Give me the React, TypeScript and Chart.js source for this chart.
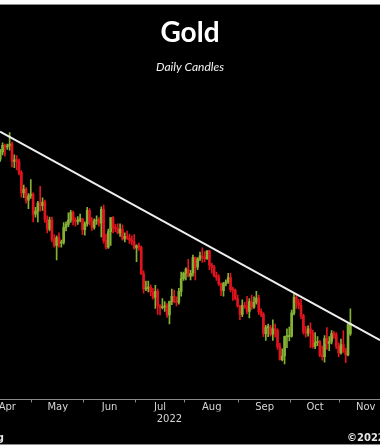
import React, { useEffect, useRef } from "react";
import { Chart, registerables } from "chart.js";

Chart.register(...registerables);

// ---------- data (spot gold, daily candles) ----------
const tradingDates: string[] = [
  // Apr
  "2022-04-11", "2022-04-12", "2022-04-13", "2022-04-14", "2022-04-15", "2022-04-18", "2022-04-19", "2022-04-20",
  "2022-04-21", "2022-04-22", "2022-04-25", "2022-04-26", "2022-04-27", "2022-04-28", "2022-04-29",
  // May
  "2022-05-02", "2022-05-03", "2022-05-04", "2022-05-05", "2022-05-06", "2022-05-09", "2022-05-10", "2022-05-11",
  "2022-05-12", "2022-05-13", "2022-05-16", "2022-05-17", "2022-05-18", "2022-05-19", "2022-05-20", "2022-05-23",
  "2022-05-24", "2022-05-25", "2022-05-26", "2022-05-27", "2022-05-30", "2022-05-31",
  // Jun
  "2022-06-01", "2022-06-02", "2022-06-03", "2022-06-06", "2022-06-07", "2022-06-08", "2022-06-09", "2022-06-10",
  "2022-06-13", "2022-06-14", "2022-06-15", "2022-06-16", "2022-06-17", "2022-06-20", "2022-06-21", "2022-06-22",
  "2022-06-23", "2022-06-24", "2022-06-27", "2022-06-28", "2022-06-29", "2022-06-30",
  // Jul
  "2022-07-01", "2022-07-04", "2022-07-05", "2022-07-06", "2022-07-07", "2022-07-08", "2022-07-11", "2022-07-12",
  "2022-07-13", "2022-07-14", "2022-07-15", "2022-07-18", "2022-07-19", "2022-07-20", "2022-07-21", "2022-07-22",
  "2022-07-25", "2022-07-26", "2022-07-27", "2022-07-28", "2022-07-29",
  // Aug
  "2022-08-01", "2022-08-02", "2022-08-03", "2022-08-04", "2022-08-05", "2022-08-08", "2022-08-09", "2022-08-10",
  "2022-08-11", "2022-08-12", "2022-08-15", "2022-08-16", "2022-08-17", "2022-08-18", "2022-08-19", "2022-08-22",
  "2022-08-23", "2022-08-24", "2022-08-25", "2022-08-26", "2022-08-29", "2022-08-30", "2022-08-31",
  // Sep
  "2022-09-01", "2022-09-02", "2022-09-05", "2022-09-06", "2022-09-07", "2022-09-08", "2022-09-09", "2022-09-12",
  "2022-09-13", "2022-09-14", "2022-09-15", "2022-09-16", "2022-09-19", "2022-09-20", "2022-09-21", "2022-09-22",
  "2022-09-23", "2022-09-26", "2022-09-27", "2022-09-28", "2022-09-29", "2022-09-30",
  // Oct
  "2022-10-03", "2022-10-04", "2022-10-05", "2022-10-06", "2022-10-07", "2022-10-10", "2022-10-11", "2022-10-12",
  "2022-10-13", "2022-10-14", "2022-10-17", "2022-10-18", "2022-10-19", "2022-10-20", "2022-10-21", "2022-10-24",
  "2022-10-25", "2022-10-26", "2022-10-27", "2022-10-28", "2022-10-31",
  // Nov
  "2022-11-01", "2022-11-02", "2022-11-03", "2022-11-04", "2022-11-07",
];

const openPrices: number[] = [
  1946, 1954, 1966, 1977, 1974, 1976, 1979, 1950, 1953, 1950, 1932, 1898, 1904, 1886, 1893,
  1896, 1863, 1868, 1881, 1877, 1883, 1854, 1838, 1853, 1821, 1811, 1824, 1815, 1816, 1841, 1846, 1853, 1866, 1853, 1851, 1853, 1855,
  1837, 1847, 1869, 1851, 1841, 1852, 1853, 1848, 1871, 1819, 1808, 1834, 1857, 1840, 1839, 1832, 1838, 1822, 1826, 1823, 1820, 1817,
  1807, 1811, 1808, 1764, 1739, 1740, 1742, 1734, 1725, 1735, 1711, 1708, 1709, 1711, 1696, 1718, 1727, 1719, 1717, 1735, 1756,
  1765, 1772, 1760, 1765, 1791, 1775, 1789, 1794, 1792, 1789, 1802, 1779, 1775, 1761, 1758, 1747, 1736, 1748, 1751, 1758, 1738, 1737, 1723,
  1711, 1697, 1712, 1710, 1702, 1718, 1709, 1717, 1724, 1702, 1697, 1665, 1675, 1675, 1664, 1673, 1671, 1643, 1622, 1628, 1660, 1660,
  1661, 1699, 1725, 1716, 1712, 1695, 1668, 1666, 1673, 1666, 1644, 1650, 1652, 1629, 1627, 1657, 1649, 1652, 1665, 1663, 1644,
  1633, 1647, 1636, 1630, 1665,
];

const highPrices: number[] = [
  1958, 1970, 1981, 1979, 1979, 1998, 1982, 1961, 1960, 1954, 1935, 1911, 1907, 1897, 1920,
  1898, 1874, 1884, 1909, 1890, 1886, 1860, 1858, 1858, 1829, 1827, 1832, 1820, 1849, 1850, 1865, 1869, 1868, 1857, 1859, 1863, 1856,
  1850, 1874, 1872, 1857, 1855, 1860, 1857, 1875, 1878, 1830, 1838, 1857, 1859, 1846, 1847, 1847, 1845, 1832, 1835, 1830, 1827, 1829,
  1812, 1815, 1810, 1769, 1752, 1752, 1746, 1740, 1745, 1739, 1713, 1723, 1718, 1715, 1719, 1739, 1737, 1726, 1740, 1767, 1767,
  1774, 1788, 1770, 1795, 1792, 1791, 1800, 1807, 1801, 1802, 1803, 1782, 1778, 1767, 1763, 1749, 1750, 1754, 1765, 1765, 1742, 1739, 1729,
  1712, 1721, 1717, 1727, 1723, 1729, 1726, 1735, 1729, 1706, 1700, 1679, 1681, 1679, 1688, 1681, 1673, 1649, 1640, 1661, 1673, 1676,
  1704, 1730, 1729, 1722, 1722, 1697, 1677, 1678, 1683, 1671, 1667, 1660, 1654, 1645, 1662, 1675, 1660, 1670, 1669, 1667, 1650,
  1656, 1670, 1641, 1682, 1706,
];

const lowPrices: number[] = [
  1940, 1950, 1961, 1959, 1970, 1969, 1941, 1940, 1936, 1928, 1891, 1890, 1881, 1872, 1889,
  1850, 1858, 1850, 1868, 1869, 1849, 1832, 1835, 1817, 1808, 1787, 1808, 1808, 1813, 1835, 1842, 1849, 1845, 1843, 1846, 1850, 1829,
  1828, 1843, 1845, 1836, 1838, 1846, 1843, 1825, 1815, 1805, 1806, 1811, 1832, 1834, 1830, 1826, 1820, 1817, 1821, 1814, 1812, 1805,
  1784, 1803, 1763, 1732, 1736, 1734, 1728, 1722, 1707, 1697, 1696, 1706, 1702, 1692, 1681, 1713, 1716, 1711, 1714, 1727, 1753,
  1754, 1759, 1754, 1760, 1754, 1771, 1786, 1783, 1784, 1788, 1771, 1765, 1759, 1753, 1745, 1728, 1727, 1744, 1748, 1734, 1720, 1721, 1709,
  1688, 1693, 1707, 1698, 1691, 1705, 1707, 1714, 1697, 1693, 1660, 1654, 1660, 1661, 1654, 1659, 1639, 1621, 1620, 1615, 1642, 1653,
  1659, 1696, 1707, 1706, 1690, 1664, 1659, 1661, 1642, 1641, 1640, 1645, 1627, 1621, 1618, 1639, 1637, 1648, 1657, 1640, 1627,
  1631, 1634, 1617, 1628, 1662,
];

const closePrices: number[] = [
  1954, 1966, 1977, 1974, 1975, 1979, 1950, 1953, 1950, 1932, 1898, 1904, 1886, 1893, 1896,
  1863, 1868, 1881, 1877, 1883, 1854, 1838, 1853, 1821, 1811, 1824, 1815, 1816, 1841, 1846, 1853, 1866, 1853, 1851, 1853, 1855, 1837,
  1847, 1869, 1851, 1841, 1852, 1853, 1848, 1871, 1819, 1808, 1834, 1857, 1840, 1839, 1832, 1838, 1822, 1826, 1823, 1820, 1817, 1807,
  1811, 1808, 1764, 1739, 1740, 1742, 1734, 1725, 1735, 1711, 1708, 1709, 1711, 1696, 1718, 1727, 1719, 1717, 1735, 1756, 1765,
  1772, 1760, 1765, 1791, 1775, 1789, 1794, 1792, 1789, 1802, 1779, 1775, 1761, 1758, 1747, 1736, 1748, 1751, 1758, 1738, 1737, 1723, 1711,
  1697, 1712, 1710, 1702, 1718, 1709, 1717, 1724, 1702, 1697, 1665, 1675, 1675, 1664, 1673, 1671, 1643, 1622, 1628, 1660, 1660, 1661,
  1699, 1725, 1716, 1712, 1695, 1668, 1666, 1673, 1666, 1644, 1650, 1652, 1629, 1627, 1657, 1649, 1652, 1665, 1663, 1644, 1633,
  1647, 1636, 1630, 1681, 1682,
];

// trend line (resistance) drawn from left edge to right edge, in trading-day units / USD
const trendDays: number[] = [0.9, 162.6];
const trendPrices: number[] = [1999.7, 1654.2];

// axis labels
const monthStarts: string[] = [
  "2022-04-01", "2022-05-01", "2022-06-01", "2022-07-01", "2022-08-01",
  "2022-09-01", "2022-10-01", "2022-11-01", "2022-12-01",
];
const monthLabels: string[] = ["Apr", "May", "Jun", "Jul", "Aug", "Sep", "Oct", "Nov"];
const yearLabel = "2022";
const yearLabelDay = 73;

// visible ranges
const dayRange: number[] = [0.9, 162.6];
const priceRange: number[] = [1556, 2076.7];

const titleText = "Gold";
const subtitleText = "Daily Candles";
const sourceLeft = "Source: Bloomberg";
const sourceRight = "\u00A92022 Bloomberg Finance L.P.";

// ---------- helpers ----------
const DAY = 86400000;
const BASE = Date.parse(tradingDates[0] + "T00:00:00Z");
function weekdayIndex(iso: string): number {
  const t = Date.parse(iso + "T00:00:00Z");
  let n = 0;
  if (t >= BASE) {
    for (let u = BASE; u < t; u += DAY) {
      const w = new Date(u).getUTCDay();
      if (w !== 0 && w !== 6) n++;
    }
  } else {
    for (let u = t; u < BASE; u += DAY) {
      const w = new Date(u).getUTCDay();
      if (w !== 0 && w !== 6) n--;
    }
  }
  return n;
}

const GREEN = "#85b235";
const RED = "#e0141e";

export default function App() {
  const canvasRef = useRef<HTMLCanvasElement | null>(null);

  useEffect(() => {
    const canvas = canvasRef.current;
    if (!canvas) return;

    const xs = tradingDates.map((d) => weekdayIndex(d));
    const up = closePrices.map((c, i) => c >= openPrices[i]);
    const colors = up.map((u) => (u ? GREEN : RED));

    const wickData = xs.map((x, i) => ({ x, y: [lowPrices[i], highPrices[i]] }));
    const bodyData = xs.map((x, i) => ({ x, y: [openPrices[i], closePrices[i]] }));
    const trendData = trendDays.map((x, i) => ({ x, y: trendPrices[i] }));

    const bounds = monthStarts.map((m) => weekdayIndex(m) - 0.5);
    const monthTicks: { value: number; label: string }[] = [];
    for (let i = 0; i < monthLabels.length; i++) {
      monthTicks.push({ value: bounds[i], label: "" });
      monthTicks.push({ value: (bounds[i] + bounds[i + 1]) / 2, label: monthLabels[i] });
    }
    const visibleMonthTicks = monthTicks.filter(
      (t) => t.value >= dayRange[0] && t.value <= dayRange[1]
    );

    const chart = new Chart(canvas, {
      type: "bar",
      data: {
        datasets: [
          {
            type: "line",
            data: trendData as any,
            xAxisID: "x",
            yAxisID: "y",
            borderColor: "#eeeeee",
            borderWidth: 2,
            pointRadius: 0,
            tension: 0,
            order: 0,
          } as any,
          {
            data: bodyData as any,
            xAxisID: "x",
            yAxisID: "y",
            backgroundColor: colors,
            borderWidth: 0,
            barThickness: 2,
            minBarLength: 1,
            grouped: false,
            order: 1,
          },
          {
            data: wickData as any,
            xAxisID: "x",
            yAxisID: "y",
            backgroundColor: colors,
            borderWidth: 0,
            barThickness: 1,
            grouped: false,
            order: 2,
          },
        ],
      },
      options: {
        animation: false,
        responsive: false,
        layout: { autoPadding: false, padding: { top: 0, left: 0, right: 0, bottom: 21.5 } },
        plugins: {
          legend: { display: false },
          tooltip: { enabled: false },
          title: {
            display: true,
            text: titleText,
            color: "#ffffff",
            font: { family: "Lato", size: 28, weight: "bold", lineHeight: 1.2 },
            padding: { top: 16, bottom: 0 },
          },
          subtitle: {
            display: true,
            text: subtitleText,
            color: "#f2f2f2",
            font: { family: "Lato", size: 12, style: "italic", lineHeight: 1.2 },
            padding: { top: 10.7, bottom: 10.3 },
          },
        },
        scales: {
          y: {
            type: "linear",
            display: false,
            min: priceRange[0],
            max: priceRange[1],
          },
          x: {
            type: "linear",
            position: "bottom",
            min: dayRange[0],
            max: dayRange[1],
            offset: false,
            weight: 0,
            afterBuildTicks: (scale: any) => {
              scale.ticks = visibleMonthTicks.map((t) => ({ value: t.value }));
            },
            ticks: {
              autoSkip: false,
              maxRotation: 0,
              minRotation: 0,
              padding: -1.5,
              color: "#d6d6d6",
              font: { family: "DejaVu Sans", size: 10, lineHeight: 1.2 },
              callback: (_v: any, index: number) => visibleMonthTicks[index]?.label ?? "",
            },
            grid: {
              display: true,
              offset: false,
              drawOnChartArea: false,
              drawTicks: true,
              tickLength: 3,
              lineWidth: 1,
              color: (ctx: any) =>
                ctx.tick && visibleMonthTicks[ctx.index] && visibleMonthTicks[ctx.index].label === ""
                  ? "#8a8a8a"
                  : "rgba(0,0,0,0)",
            },
            border: { display: true, color: "#8a8a8a", width: 1 },
          },
          xYear: {
            type: "linear",
            position: "bottom",
            min: dayRange[0],
            max: dayRange[1],
            offset: false,
            weight: 1,
            afterBuildTicks: (scale: any) => {
              scale.ticks = [{ value: yearLabelDay }];
            },
            ticks: {
              autoSkip: false,
              maxRotation: 0,
              minRotation: 0,
              padding: 1.5,
              color: "#d6d6d6",
              font: { family: "DejaVu Sans", size: 10, lineHeight: 1.2 },
              callback: () => yearLabel,
            },
            grid: { display: false, drawTicks: false, tickLength: 0 },
            border: { display: false },
          },
        },
      } as any,
    });

    return () => chart.destroy();
  }, []);

  return (
    <div
      style={{
        position: "fixed",
        left: 0,
        top: 0,
        width: 380,
        height: 448,
        background: "#ffffff",
        overflow: "hidden",
      }}
    >
      <div
        style={{
          position: "absolute",
          left: 0,
          top: 4,
          width: 380,
          height: 439,
          background: "#000000",
          borderTop: "1px solid #8a8a8a",
          borderBottom: "1px solid #8a8a8a",
        }}
      />
      <canvas
        ref={canvasRef}
        width={380}
        height={448}
        style={{ position: "absolute", left: 0, top: 0, width: 380, height: 448, display: "block" }}
      />
      <div
        style={{
          position: "absolute",
          right: 376,
          top: 432,
          whiteSpace: "nowrap",
          font: "bold 10px 'DejaVu Sans'",
          color: "#e6e6e6",
          lineHeight: "12px",
        }}
      >
        {sourceLeft}
      </div>
      <div
        style={{
          position: "absolute",
          left: 347,
          top: 432,
          whiteSpace: "nowrap",
          font: "bold 10px 'DejaVu Sans'",
          color: "#e6e6e6",
          lineHeight: "12px",
        }}
      >
        {sourceRight}
      </div>
    </div>
  );
}
